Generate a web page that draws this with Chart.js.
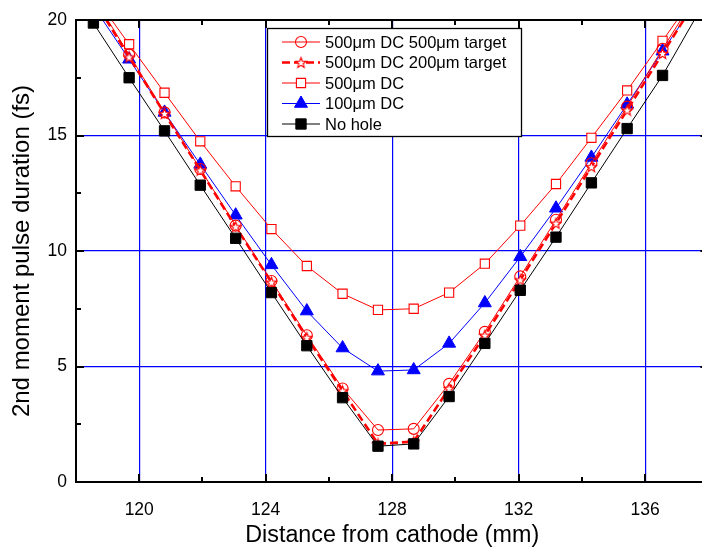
<!DOCTYPE html>
<html>
<head>
<meta charset="utf-8">
<script src="https://cdn.jsdelivr.net/npm/chart.js@4.4.1/dist/chart.umd.min.js"></script>
<style>
html,body{margin:0;padding:0;background:#fff;overflow:hidden;}
#wrap{position:absolute;left:0;top:0;width:717px;height:547px;}
</style>
</head>
<body>
<div id="wrap"><canvas id="c" width="717" height="547"></canvas></div>
<script>
// ---- data ----
const distance = [118.55, 119.68, 120.8, 121.93, 123.05, 124.18, 125.3, 126.43, 127.55, 128.68, 129.8, 130.93, 132.05, 133.18, 134.3, 135.43, 136.55, 137.68];
const dc500target500 = [21.0, 18.5, 16.0, 13.55, 11.1, 8.7, 6.35, 4.05, 2.25, 2.3, 4.25, 6.5, 8.9, 11.35, 13.8, 16.25, 18.75, 21.2];
const dc500target200 = [20.9, 18.4, 15.95, 13.5, 11.05, 8.65, 6.25, 3.95, 1.65, 1.75, 4.05, 6.35, 8.75, 11.2, 13.65, 16.1, 18.55, 21.0];
const dc500 = [21.1, 18.95, 16.85, 14.75, 12.8, 10.95, 9.35, 8.15, 7.45, 7.5, 8.2, 9.45, 11.1, 12.9, 14.9, 16.95, 19.1, 21.3];
const dc100 = [20.6, 18.3, 16.0, 13.75, 11.55, 9.4, 7.4, 5.8, 4.8, 4.85, 6.0, 7.75, 9.75, 11.85, 14.05, 16.35, 18.65, 20.95];
const noHole = [19.87, 17.5, 15.2, 12.85, 10.55, 8.2, 5.9, 3.65, 1.55, 1.65, 3.7, 6.0, 8.3, 10.6, 12.95, 15.3, 17.6, 20.3];
const seriesNames = ['500\u03bcm DC 500\u03bcm target', '500\u03bcm DC 200\u03bcm target', '500\u03bcm DC', '100\u03bcm DC', 'No hole'];
const xTickLabels = [120, 124, 128, 132, 136];
const yTickLabels = [0, 5, 10, 15, 20];

const RED = '#ff0000', BLUE = '#0000ff', BLACK = '#000000';
const FONT = 'Arial, "Liberation Sans", sans-serif';

// star marker canvas
function makeStar(size, color){
  const cv = document.createElement('canvas');
  cv.width = size; cv.height = size;
  const g = cv.getContext('2d');
  const cx = size/2, cy = size/2 + 0.5, R = size/2 - 1, r = R*0.42;
  g.beginPath();
  for (let i = 0; i < 10; i++) {
    const a = -Math.PI/2 + i*Math.PI/5;
    const rr = (i % 2 === 0) ? R : r;
    const px = cx + rr*Math.cos(a), py = cy + rr*Math.sin(a);
    if (i === 0) g.moveTo(px, py); else g.lineTo(px, py);
  }
  g.closePath();
  g.fillStyle = '#fff'; g.fill();
  g.strokeStyle = color; g.lineWidth = 1.1; g.stroke();
  return cv;
}
const starImg = makeStar(13, RED);

function pts(ys){ return ys.map((y,i)=>({x: distance[i], y: y})); }

const datasets = [
  {label: seriesNames[0], data: pts(dc500target500), borderColor: RED, borderWidth: 1,
   pointStyle: 'circle', pointRadius: 5.5, pointBorderWidth: 1.1, pointBorderColor: RED, pointBackgroundColor: 'rgba(255,255,255,0)', order: 3},
  {label: seriesNames[1], data: pts(dc500target200), borderColor: RED, borderWidth: 2.6, borderDash: [8,4],
   pointStyle: starImg, pointRadius: 6, order: 2},
  {label: seriesNames[2], data: pts(dc500), borderColor: RED, borderWidth: 1,
   pointStyle: 'rect', pointRadius: 6.5, pointBorderWidth: 1.1, pointBorderColor: RED, pointBackgroundColor: '#fff', order: 5},
  {label: seriesNames[3], data: pts(dc100), borderColor: BLUE, borderWidth: 1,
   pointStyle: 'triangle', pointRadius: 7.5, pointBorderWidth: 1, pointBorderColor: BLUE, pointBackgroundColor: BLUE, order: 4},
  {label: seriesNames[4], data: pts(noHole), borderColor: BLACK, borderWidth: 1,
   pointStyle: 'rect', pointRadius: 7.3, pointBorderWidth: 1, pointBorderColor: BLACK, pointBackgroundColor: BLACK, order: 1}
];
datasets.forEach(d => { d.tension = 0; d.fill = false; d.pointHoverRadius = d.pointRadius; });

const framePlugin = {
  id: 'frame',
  afterDatasetsDraw(chart){
    const {ctx, chartArea: a, scales: {x, y}} = chart;
    ctx.save();
    ctx.strokeStyle = '#000';
    ctx.lineWidth = 2;
    ctx.strokeRect(a.left, a.top, a.right - a.left, a.bottom - a.top);
    ctx.beginPath();
    for (let v = 120; v < 138; v += 2) {
      const px = Math.round(x.getPixelForValue(v));
      const L = (v % 4 === 0) ? 8 : 5;
      ctx.moveTo(px, a.bottom); ctx.lineTo(px, a.bottom - L);
      ctx.moveTo(px, a.top); ctx.lineTo(px, a.top + L);
    }
    for (let v = 2.5; v < 20; v += 2.5) {
      const py = Math.round(y.getPixelForValue(v));
      const L = (v % 5 === 0) ? 8 : 5;
      ctx.moveTo(a.left, py); ctx.lineTo(a.left + L, py);
      ctx.moveTo(a.right, py); ctx.lineTo(a.right - L, py);
    }
    ctx.stroke();
    ctx.restore();
  }
};

function legendMarker(ctx, d, x, y){
  ctx.save();
  ctx.fillStyle = d.pointBackgroundColor || '#fff';
  ctx.strokeStyle = d.pointBorderColor || d.borderColor;
  ctx.lineWidth = d.pointBorderWidth || 1;
  Chart.helpers.drawPoint(ctx, {pointStyle: d.pointStyle, radius: d.pointRadius, rotation: 0, borderWidth: d.pointBorderWidth || 1}, x, y);
  ctx.restore();
}
const legendPlugin = {
  id: 'boxLegend',
  afterDraw(chart){
    const ctx = chart.ctx;
    const bx = 267, by = 28, bw = 254, bh = 108;
    ctx.save();
    ctx.fillStyle = '#fff';
    ctx.fillRect(bx, by, bw, bh);
    ctx.strokeStyle = '#000'; ctx.lineWidth = 1.3;
    ctx.strokeRect(bx + 0.5, by + 0.5, bw, bh);
    const rows = [42, 62.5, 83, 103.5, 124];
    chart.data.datasets.forEach((d, i) => {
      const yy = rows[i];
      ctx.save();
      ctx.strokeStyle = d.borderColor; ctx.lineWidth = d.borderWidth;
      ctx.setLineDash(d.borderDash || []);
      ctx.beginPath(); ctx.moveTo(282, yy); ctx.lineTo(320, yy); ctx.stroke();
      ctx.restore();
      legendMarker(ctx, d, 301, yy);
      ctx.fillStyle = '#000';
      ctx.font = '16.5px ' + FONT;
      ctx.textBaseline = 'middle';
      ctx.textAlign = 'left';
      ctx.fillText(d.label, 325, yy + 1);
    });
    ctx.restore();
  }
};

new Chart(document.getElementById('c'), {
  type: 'line',
  data: {datasets},
  options: {
    responsive: false,
    animation: false,
    events: [],
    layout: {padding: {left: 0, top: 20, right: 0, bottom: 0}},
    plugins: {legend: {display: false}, tooltip: {enabled: false}},
    scales: {
      x: {
        type: 'linear', min: 118, max: 138,
        afterFit(s){ s.height = 65; s.paddingLeft = 0; s.paddingRight = 0; },
        afterBuildTicks(s){ s.ticks = []; for (let v = 118; v <= 138; v += 2) s.ticks.push({value: v}); },
        ticks: {
          autoSkip: false, maxRotation: 0, color: '#000', padding: 18,
          font: {family: FONT, size: 17.5},
          callback: v => xTickLabels.includes(v) ? String(v) : ''
        },
        grid: {
          drawTicks: false,
          lineWidth: 1.2,
          color: c => (c.tick && xTickLabels.includes(c.tick.value)) ? BLUE : 'rgba(0,0,0,0)'
        },
        border: {display: false},
        title: {display: true, text: 'Distance from cathode (mm)', color: '#000',
                font: {family: FONT, size: 23.3, lineHeight: 1}, padding: {top: 0, bottom: 0}}
      },
      y: {
        type: 'linear', min: 0, max: 20,
        afterFit(s){ s.width = 76; s.paddingTop = 0; s.paddingBottom = 0; },
        afterBuildTicks(s){ s.ticks = []; for (let v = 0; v <= 20; v += 2.5) s.ticks.push({value: v}); },
        ticks: {
          autoSkip: false, color: '#000', padding: 9,
          font: {family: FONT, size: 17.5},
          callback: v => yTickLabels.includes(v) ? String(v) : ''
        },
        grid: {
          drawTicks: false,
          lineWidth: 1.2,
          color: c => (c.tick && [5,10,15].includes(c.tick.value)) ? BLUE : 'rgba(0,0,0,0)'
        },
        border: {display: false},
        title: {display: true, text: '2nd moment pulse duration (fs)', color: '#000',
                font: {family: FONT, size: 24, lineHeight: 1}, padding: {top: 10, bottom: 0}}
      }
    }
  },
  plugins: [framePlugin, legendPlugin]
});
</script>
</body>
</html>
